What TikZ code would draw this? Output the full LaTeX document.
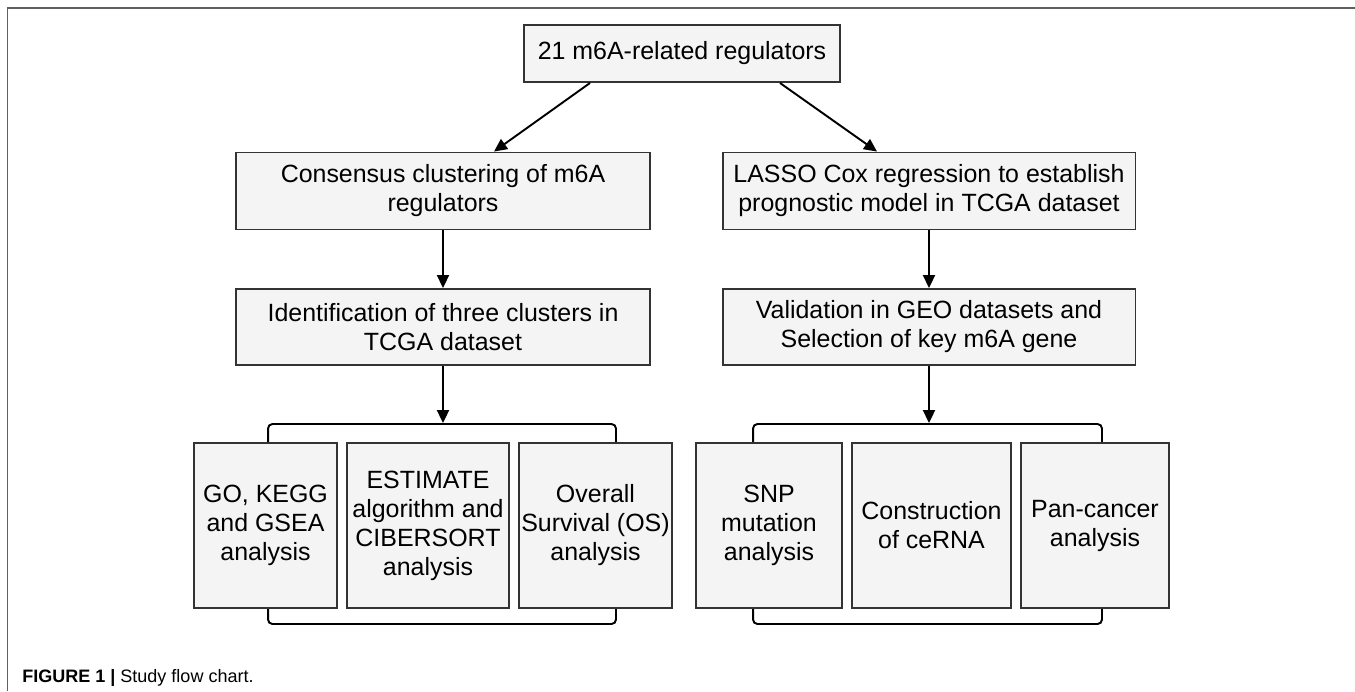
\documentclass[tikz,border=0pt]{standalone}
\usepackage{fontspec}
\setmainfont{Liberation Sans}
\usetikzlibrary{arrows.meta}
\definecolor{boxfill}{HTML}{F4F4F4}
\definecolor{boxline}{HTML}{333333}
\definecolor{framegray}{HTML}{606060}

\begin{document}
\begin{tikzpicture}[x=0.02cm,y=-0.02cm]

	\tikzstyle{flow} = [draw=boxline,line width=1.1pt,fill=boxfill,align=center,inner sep=0pt,font=\fontsize{14.2}{16.5}\selectfont]
	\tikzstyle{grp} = [draw=black,line width=1.1pt,rounded corners=2.5pt,inner sep=0pt,minimum height=4cm]
	\tikzstyle{link} = [line width=1.1pt,-{Triangle[length=0.26cm,width=0.24cm]}]

	\useasboundingbox (0,0) rectangle (1355,691);
	\draw[framegray,line width=0.8pt] (7.5,691) -- (7.5,8) -- (1355,8);

	% top of the chart
	\node[flow,minimum width=6.32cm,minimum height=1.14cm] (top) at (682,53.5) {21 m6A-related regulators};

	\node[flow,minimum width=8.28cm,minimum height=1.54cm] (cons) at (443,191) {Consensus clustering of m6A\\regulators};
	\node[flow,minimum width=8.28cm,minimum height=1.52cm] (ident) at (443,327) {Identification of three clusters in\\TCGA dataset};

	\node[flow,minimum width=8.26cm,minimum height=1.54cm] (lasso) at (929,191) {LASSO Cox regression to establish\\prognostic model in TCGA dataset};
	\node[flow,minimum width=8.26cm,minimum height=1.52cm] (valid) at (929,327) {Validation in GEO datasets and\\Selection of key m6A gene};

	% brackets behind the analysis boxes
	\node[grp,minimum width=6.96cm] (lgrp) at (442,524) {};
	\node[grp,minimum width=6.98cm] (rgrp) at (927.5,524) {};

	\foreach \n/\x/\w/\t in {go/265.5/2.86/{GO, KEGG\\and GSEA\\analysis},
		est/428/3.24/{ESTIMATE\\algorithm and\\CIBERSORT\\analysis},
		os/595.5/3.06/{Overall\\Survival (OS)\\analysis},
		snp/769/2.92/{SNP\\mutation\\analysis},
		cerna/931.5/3.18/{Construction\\of ceRNA},
		pan/1095/2.96/{Pan-cancer\\analysis}}
		\node[flow,minimum width=\w cm,minimum height=3.3cm] (\n) at (\x,525.5) {\t};

	\draw[link] ([xshift=-1.84cm]top.south) -- ([xshift=1.02cm]cons.north);
	\draw[link] ([xshift=1.96cm]top.south) -- ([xshift=-1.04cm]lasso.north);
	\draw[link] (cons) -- (ident);
	\draw[link] (lasso) -- (valid);
	\draw[link] (ident.south) -- (ident.south |- lgrp.north);
	\draw[link] (valid.south) -- (valid.south |- rgrp.north);

	\node[anchor=base west,inner sep=0pt,font=\fontsize{10.25}{12}\selectfont] (cap) at (22,682) {\textbf{FIGURE 1 |} Study flow chart.};

\end{tikzpicture}
\end{document}
